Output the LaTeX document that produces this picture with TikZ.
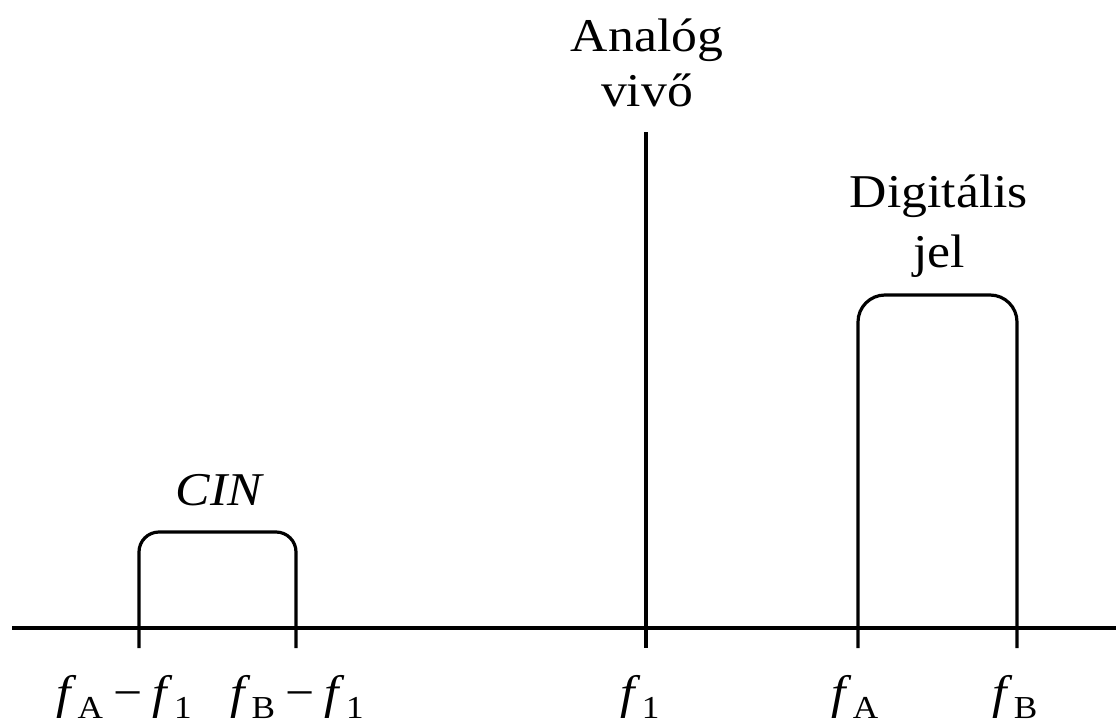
\documentclass[tikz,border=0pt]{standalone}
\usepackage{fontspec}
\setmainfont{Liberation Serif}
\usepackage{graphicx}
\newcommand\hstr[1]{\scalebox{1.1}[1]{#1}}
\newcommand\subs[1]{\raisebox{-0.22em}{\fontsize{32}{34}\selectfont #1}}
\newcommand\fq[1]{\textit{f}\kern0.02em\subs{#1}}
\newcommand\mns{\hspace{0.2em}−\hspace{0.2em}}
\begin{document}
\begin{tikzpicture}[x=1pt,y=-1pt,line width=3.2pt,
  lbl/.style={font=\fontsize{47}{52}\selectfont,inner sep=0pt,anchor=base},
  ]
\useasboundingbox (0,0) rectangle (1116,725);
% axis
\coordinate (axL) at (12,628);
\coordinate (axR) at (1116,628);
\draw (axL) -- (axR);
% CIN band
\coordinate (c1b) at (139,648);
\coordinate (c2b) at (296,648);
\draw[rounded corners=20pt] (c1b) -- (139,532) -- (296,532) -- (c2b);
% carrier
\coordinate (carT) at (646,132);
\coordinate (carB) at (646,648);
\draw (carT) -- (carB);
% digital band
\coordinate (dAb) at (858,648);
\coordinate (dBb) at (1017,648);
\draw[rounded corners=27pt] (dAb) -- (858,295) -- (1017,295) -- (dBb);
% labels
\node[lbl] (an1) at (647,52) {\hstr{Analóg}};
\node[lbl] (an2) at (647,106) {\hstr{vivő}};
\node[lbl] (dg1) at (939,207) {\hstr{Digitális}};
\node[lbl] (dg2) at (939,267) {\hstr{jel}};
\node[lbl] (cin) at (220,505) {\hstr{\textit{CIN}}};
\node[lbl] (l1) at (124,708) {\hstr{\fq{A}\mns\fq{1}}};
\node[lbl] (l2) at (297,708) {\hstr{\fq{B}\mns\fq{1}}};
\node[lbl] (l3) at (640,708) {\hstr{\fq{1}}};
\node[lbl] (l4) at (855,708) {\hstr{\fq{A}}};
\node[lbl] (l5) at (1015,708) {\hstr{\fq{B}}};
\end{tikzpicture}
\end{document}
